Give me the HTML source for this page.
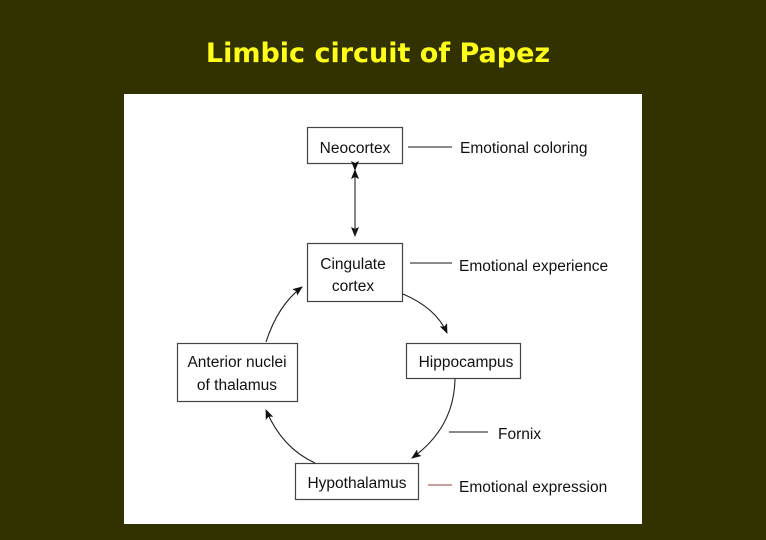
<!DOCTYPE html>
<html><head><style>
body{margin:0;width:766px;height:540px;background:#323200;overflow:hidden;position:relative;font-family:"Liberation Sans",Arial,sans-serif}
.t{position:absolute;left:0;width:756px;top:38px;text-align:center;color:#ffff1a;font:bold 27px "DejaVu Sans",sans-serif;letter-spacing:0px}
.p{position:absolute;left:124px;top:94px;width:518px;height:430px;background:#fff}
svg{position:absolute;left:0;top:0}
</style></head><body>
<div class="t">Limbic circuit of Papez</div>
<div class="p"></div>
<svg width="766" height="540" font-family="Liberation Sans, Arial, sans-serif" font-size="15.5" fill="#111">
<defs><marker id="a" markerWidth="10" markerHeight="8" refX="9" refY="4" orient="auto" markerUnits="userSpaceOnUse"><path d="M0,0 L10,4 L0,8 L2,4z" fill="#111"/></marker></defs>
<g fill="none" stroke="#444" stroke-width="1.2">
<rect x="307.5" y="127.5" width="95" height="36"/>
<rect x="307.5" y="243.5" width="95" height="58"/>
<rect x="406.5" y="343.5" width="114" height="35"/>
<rect x="177.5" y="343.5" width="120" height="58"/>
<rect x="295.5" y="463.5" width="123" height="36"/>
<line x1="408" y1="147" x2="452" y2="147"/>
<line x1="410" y1="263" x2="452" y2="263"/>
<line x1="449" y1="432" x2="488" y2="432"/>
<line x1="428" y1="485" x2="452" y2="485" stroke="#a66"/>
</g>
<g fill="none" stroke="#222" stroke-width="1.1">
<line x1="355" y1="170" x2="355" y2="236" marker-end="url(#a)" marker-start="url(#a)"/>
<path d="M403,294 Q436,308 447,333" marker-end="url(#a)"/>
<path d="M455,379 Q454,428 412,458" marker-end="url(#a)"/>
<path d="M315,463 Q282,448 266,410" marker-end="url(#a)"/>
<path d="M266,342 Q278,305 302,287" marker-end="url(#a)"/>
</g>
<defs><marker id="b" markerWidth="10" markerHeight="8" refX="9" refY="4" orient="auto-start-reverse"><path d="M0,0 L10,4 L0,8 L2,4z" fill="#111"/></marker></defs>
<line x1="355" y1="170" x2="355" y2="236" stroke="#222" marker-start="url(#b)"/>
<g text-anchor="middle">
<text x="355" y="153">Neocortex</text>
<text x="353" y="269">Cingulate</text>
<text x="353" y="291">cortex</text>
<text x="466" y="367">Hippocampus</text>
<text x="237" y="367">Anterior nuclei</text>
<text x="237" y="390">of thalamus</text>
<text x="357" y="488">Hypothalamus</text>
</g>
<text x="460" y="153">Emotional coloring</text>
<text x="459" y="271">Emotional experience</text>
<text x="498" y="439">Fornix</text>
<text x="459" y="492">Emotional expression</text>
</svg>
</body></html>
